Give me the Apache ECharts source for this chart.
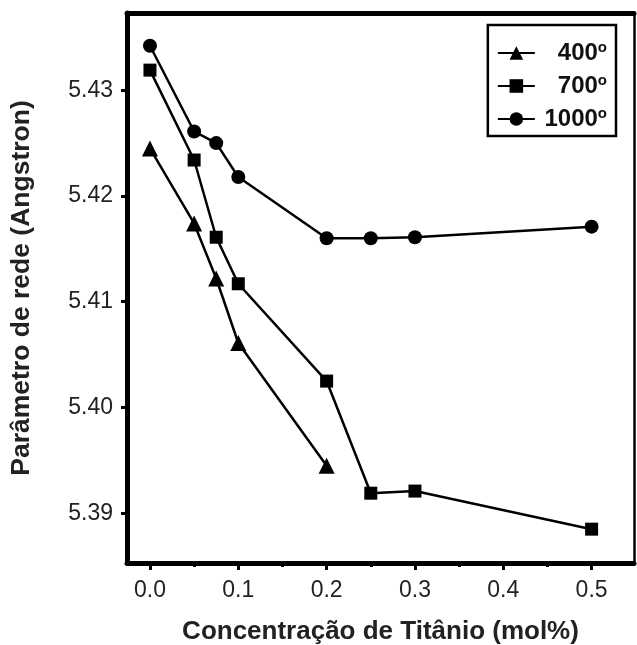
<!DOCTYPE html>
<html>
<head>
<meta charset="utf-8">
<script src="https://cdn.jsdelivr.net/npm/echarts@6/dist/echarts.min.js"></script>
<style>
  html, body { margin: 0; padding: 0; background: #fff; }
  #chart { width: 637px; height: 645px; }
</style>
</head>
<body>
<div id="chart"></div>
<script>
var temps = ['400', '700', '1000'];
var x400 = [0.0, 0.05, 0.075, 0.1, 0.2];
var y400 = [5.4245, 5.4174, 5.4122, 5.4061, 5.3945];
var x700 = [0.0, 0.05, 0.075, 0.1, 0.2, 0.25, 0.3, 0.5];
var y700 = [5.4319, 5.4234, 5.4161, 5.4117, 5.4025, 5.3919, 5.3921, 5.3885];
var x1000 = [0.0, 0.05, 0.075, 0.1, 0.2, 0.25, 0.3, 0.5];
var y1000 = [5.4342, 5.4261, 5.4250, 5.4218, 5.4160, 5.4160, 5.4161, 5.4171];
var xTicks = [0.0, 0.1, 0.2, 0.3, 0.4, 0.5];
var xMinor = [0.05, 0.15, 0.25, 0.35, 0.45];
var yTicks = [5.39, 5.40, 5.41, 5.42, 5.43];

function pairs(xs, ys) {
    var out = [];
    for (var i = 0; i < xs.length; i++) out.push([xs[i], ys[i]]);
    return out;
}

var chart = echarts.init(document.getElementById('chart'));
var font = 'Liberation Sans, Arial, sans-serif';
var xMin = -0.026, xMax = 0.548, yMin = 5.3853, yMax = 5.4373;

var option = {
    animation: false,
    backgroundColor: '#fff',
    grid: { left: 127, right: 3, top: 13, bottom: 82, outerBoundsMode: 'none', containLabel: false },
    legend: {
        orient: 'vertical',
        right: 21,
        top: 25,
        itemWidth: 37,
        itemHeight: 17,
        itemGap: 8,
        padding: [15, 9, 5, 9],
        borderColor: '#000',
        borderWidth: 2.5,
        data: temps,
        formatter: function (name) {
            return '{n|' + name + '}{s|o}';
        },
        textStyle: {
            rich: {
                n: { fontFamily: font, fontSize: 24, fontWeight: 'bold', color: '#111', width: 58, align: 'right', lineHeight: 29 },
                s: { fontFamily: font, fontSize: 15, fontWeight: 'bold', color: '#111', align: 'right', padding: [0, 0, 11, 0] }
            }
        }
    },
    xAxis: [{
        type: 'value',
        min: xMin,
        max: xMax,
        position: 'bottom',
        name: 'Concentração de Titânio (mol%)',
        nameLocation: 'middle',
        nameGap: 56,
        nameTextStyle: { fontFamily: font, fontSize: 26, fontWeight: 'bold', color: '#222' },
        axisLine: { show: true, onZero: false, lineStyle: { color: '#000', width: 5 } },
        axisTick: { show: true, inside: false, length: 7, customValues: xTicks, lineStyle: { color: '#000', width: 3 } },
        axisLabel: {
            customValues: xTicks, margin: 16,
            fontFamily: font, fontSize: 23, color: '#222',
            formatter: function (v) { return v.toFixed(1); }
        },
        splitLine: { show: false }
    }, {
        type: 'value',
        min: xMin,
        max: xMax,
        position: 'bottom',
        axisLine: { show: false, onZero: false },
        axisTick: { show: true, length: 4, customValues: xMinor, lineStyle: { color: '#000', width: 3 } },
        axisLabel: { show: false },
        splitLine: { show: false }
    }, {
        type: 'value',
        min: xMin,
        max: xMax,
        position: 'top',
        axisLine: { show: true, onZero: false, lineStyle: { color: '#000', width: 5 } },
        axisTick: { show: false },
        axisLabel: { show: false },
        splitLine: { show: false }
    }],
    yAxis: [{
        type: 'value',
        min: yMin,
        max: yMax,
        position: 'left',
        name: 'Parâmetro de rede (Angstron)',
        nameLocation: 'middle',
        nameGap: 92,
        nameTextStyle: { fontFamily: font, fontSize: 26.5, fontWeight: 'bold', color: '#222' },
        axisLine: { show: true, onZero: false, lineStyle: { color: '#000', width: 5 } },
        axisTick: { show: true, length: 6, customValues: yTicks, lineStyle: { color: '#000', width: 3 } },
        axisLabel: {
            customValues: yTicks, margin: 14,
            fontFamily: font, fontSize: 23, color: '#222',
            formatter: function (v) { return v.toFixed(2); }
        },
        splitLine: { show: false }
    }, {
        type: 'value',
        min: yMin,
        max: yMax,
        position: 'right',
        axisLine: { show: true, onZero: false, lineStyle: { color: '#000', width: 2.5 } },
        axisTick: { show: false },
        axisLabel: { show: false },
        splitLine: { show: false }
    }],
    series: [{
        name: '400',
        type: 'line',
        data: pairs(x400, y400),
        symbol: 'triangle',
        symbolSize: 16,
        itemStyle: { color: '#000' },
        lineStyle: { color: '#000', width: 2.5 }
    }, {
        name: '700',
        type: 'line',
        data: pairs(x700, y700),
        symbol: 'rect',
        symbolSize: 13,
        itemStyle: { color: '#000' },
        lineStyle: { color: '#000', width: 2.5 }
    }, {
        name: '1000',
        type: 'line',
        data: pairs(x1000, y1000),
        symbol: 'circle',
        symbolSize: 14,
        itemStyle: { color: '#000' },
        lineStyle: { color: '#000', width: 2.5 }
    }]
};

chart.setOption(option);
</script>
</body>
</html>
